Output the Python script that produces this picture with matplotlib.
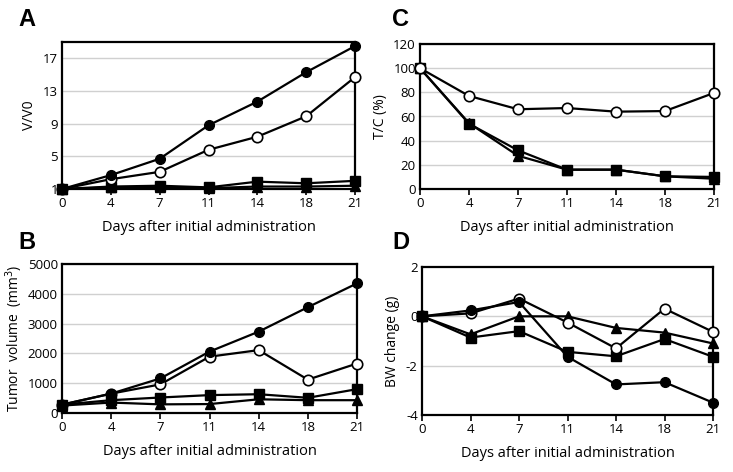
import matplotlib
matplotlib.use("Agg")
import matplotlib.pyplot as plt
import numpy as np

plt.rcParams["axes.unicode_minus"] = False

days = ["0", "4", "7", "11", "14", "18", "21"]

# Panel A: V/V0
a_filled = [1, 2.7, 4.7, 8.8, 11.7, 15.3, 18.5]
a_open = [1, 2.2, 3.1, 5.8, 7.4, 9.9, 14.7]
a_square = [1, 1.3, 1.4, 1.2, 1.9, 1.7, 2.0]
a_tri = [1, 1.2, 1.2, 1.1, 1.3, 1.3, 1.4]

# Panel B: tumor volume (mm3)
b_filled = [280, 650, 1160, 2060, 2730, 3550, 4350]
b_open = [280, 650, 960, 1890, 2110, 1120, 1660]
b_square = [280, 430, 520, 600, 630, 510, 800]
b_tri = [250, 350, 290, 300, 460, 430, 430]

# Panel C: T/C (%)
c_open = [100, 77, 66, 67, 64, 64.5, 79.5]
c_square = [100, 54, 32, 16, 16, 10.5, 10]
c_tri = [100, 54.5, 27.5, 16, 16, 10.5, 8.5]

# Panel D: BW change (g)
d_filled = [0, 0.24, 0.58, -1.64, -2.76, -2.67, -3.5]
d_open = [0, 0.12, 0.72, -0.25, -1.3, 0.31, -0.63]
d_tri = [0, -0.73, 0, 0, -0.47, -0.66, -1.1]
d_square = [0, -0.86, -0.6, -1.44, -1.62, -0.92, -1.64]

W, H = 733, 472
fig = plt.figure(figsize=(W/100, H/100), dpi=100)
font = "Open Sans"

def ax_at(l, r, t, b):
    return fig.add_axes([l/W, 1-b/H, (r-l)/W, (b-t)/H])

x = np.arange(len(days))
styles = {
    "filled": dict(marker="o", mfc="black", mec="black", ms=7),
    "open": dict(marker="o", mfc="white", mec="black", ms=7.5, mew=1.2),
    "square": dict(marker="s", mfc="black", mec="black", ms=7),
    "tri": dict(marker="^", mfc="black", mec="black", ms=6.5),
}

def setup(ax, ylim, yticks, ylabel, ylpad=4, ylsize=10):
    ax.set_xlim(0, len(days)-1)
    ax.set_ylim(*ylim)
    ax.set_yticks(yticks)
    ax.set_xticks(x)
    ax.set_xticklabels(days, fontfamily=font, fontsize=9.5)
    for lbl in ax.get_yticklabels():
        lbl.set_fontfamily(font); lbl.set_fontsize(9.5)
    ax.yaxis.grid(True, color="#d0d0d0", lw=1)
    ax.set_axisbelow(True)
    for s in ax.spines.values():
        s.set_linewidth(1.6)
        s.set_zorder(5)
    ax.tick_params(axis="y", length=0, pad=3)
    ax.tick_params(axis="x", length=4, width=1.2, direction="out", pad=2)
    ax.set_ylabel(ylabel, fontfamily=font, fontsize=ylsize, labelpad=ylpad)
    ax.set_xlabel("Days after initial administration", fontfamily=font, fontsize=10.5, labelpad=7)

def plot(ax, y, kind):
    ax.plot(x, y, color="black", lw=1.6, clip_on=False, zorder=6, **styles[kind])

axA = ax_at(62, 355, 42, 189)
setup(axA, (1, 19), [1, 5, 9, 13, 17], "V/V0")
for y, k in [(a_tri, "tri"), (a_square, "square"), (a_open, "open"), (a_filled, "filled")]:
    plot(axA, y, k)

axC = ax_at(420, 714, 44, 189)
setup(axC, (0, 120), [0, 20, 40, 60, 80, 100, 120], "T/C (%)")
for y, k in [(c_tri, "tri"), (c_square, "square"), (c_open, "open")]:
    plot(axC, y, k)

axB = ax_at(62, 357, 264, 413)
setup(axB, (0, 5000), [0, 1000, 2000, 3000, 4000, 5000], "Tumor  volume  (mm$^3$)", ylpad=2, ylsize=10)
for y, k in [(b_tri, "tri"), (b_square, "square"), (b_open, "open"), (b_filled, "filled")]:
    plot(axB, y, k)

axD = ax_at(422, 713, 267, 415)
setup(axD, (-4, 2), [-4, -2, 0, 2], "BW change (g)")
axD.yaxis.grid(False)
for yy in [-2, 0]:
    axD.axhline(yy, color="#d0d0d0", lw=1, zorder=0)
for y, k in [(d_tri, "tri"), (d_square, "square"), (d_open, "open"), (d_filled, "filled")]:
    plot(axD, y, k)

for lbl, px, py in [("A", 18, 20), ("C", 392, 20), ("B", 18, 243), ("D", 392, 243)]:
    fig.text(px/W, 1-py/H, lbl, fontsize=17, fontweight="bold", fontfamily="Liberation Sans", va="center", ha="left")

fig.savefig("out.png", dpi=100, facecolor="white")
